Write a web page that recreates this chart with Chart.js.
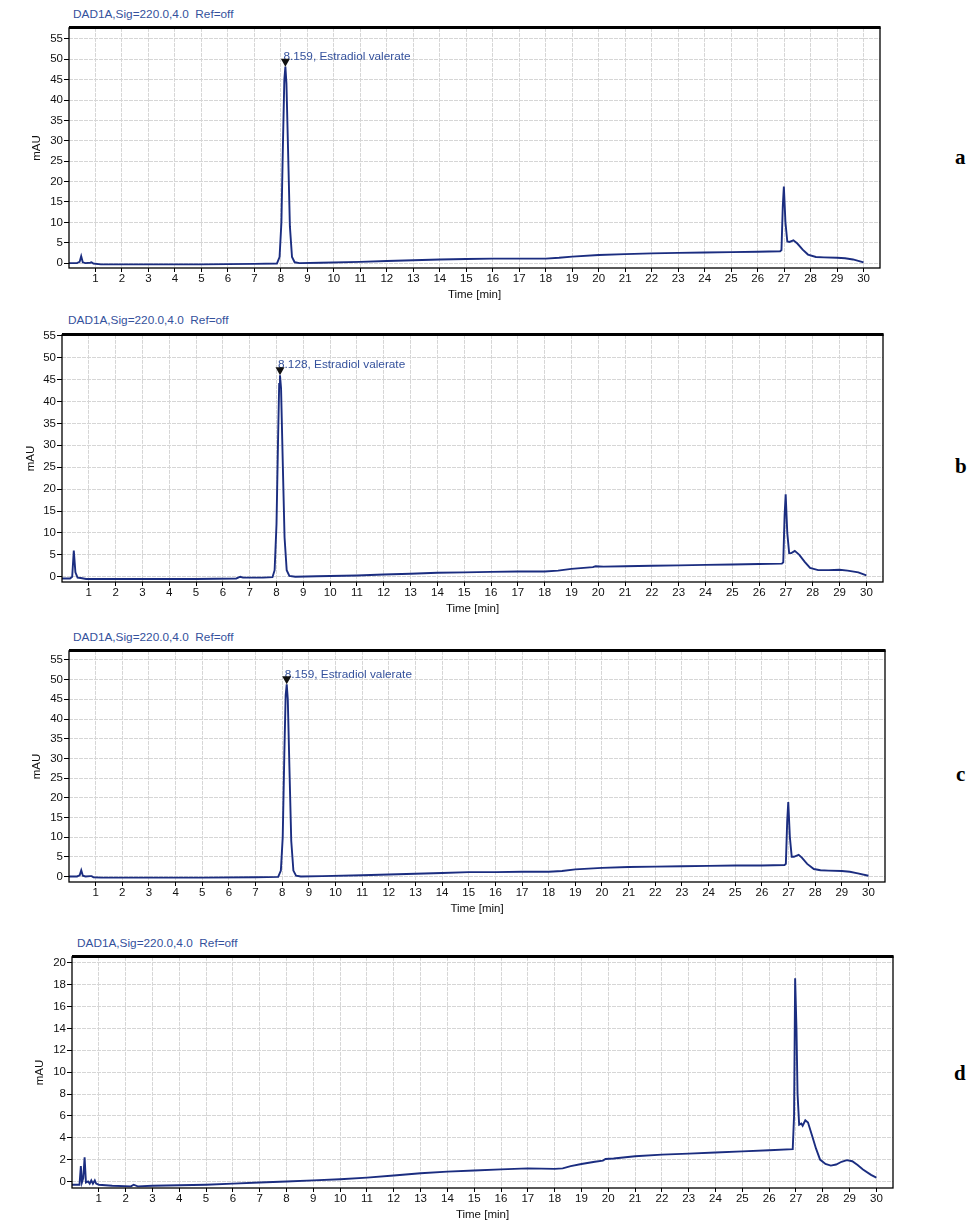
<!DOCTYPE html>
<html>
<head>
<meta charset="utf-8">
<script src="https://cdn.jsdelivr.net/npm/chart.js@4.4.1/dist/chart.umd.min.js"></script>
<style>
  body { margin: 0; background: #fff; width: 978px; height: 1227px; position: relative; overflow: hidden; }
  .panel { position: absolute; left: 0; }
  .head { position: absolute; font: 11.8px "Liberation Sans", Arial, sans-serif; color: #34519c; white-space: pre; }
  .tag { position: absolute; font: bold 21px "Liberation Serif", "Times New Roman", serif; color: #000; }
</style>
</head>
<body>
<div class="head" style="left:73px;top:7px">DAD1A,Sig=220.0,4.0  Ref=off</div>
<div class="head" style="left:68px;top:313px">DAD1A,Sig=220.0,4.0  Ref=off</div>
<div class="head" style="left:73px;top:630px">DAD1A,Sig=220.0,4.0  Ref=off</div>
<div class="head" style="left:77px;top:936px">DAD1A,Sig=220.0,4.0  Ref=off</div>
<div class="tag" style="left:955px;top:145px">a</div>
<div class="tag" style="left:955px;top:454px">b</div>
<div class="tag" style="left:956px;top:762px">c</div>
<div class="tag" style="left:954px;top:1061px">d</div>

<div class="panel" id="pa"><canvas id="chartA"></canvas></div>
<div class="panel" id="pb"><canvas id="chartB"></canvas></div>
<div class="panel" id="pc"><canvas id="chartC"></canvas></div>
<div class="panel" id="pd"><canvas id="chartD"></canvas></div>

<script>
// time [min], mAU
const traceA = [
  [0, 0], [0.3, 0], [0.4, 0.3], [0.46, 1.7], [0.52, 0.2], [0.62, 0], [0.8, 0.1], [0.85, 0.2], [0.92, -0.1],
  [1.2, -0.3], [3, -0.3], [5, -0.3], [7, -0.2], [7.85, -0.1], [7.95, 1.5], [8.02, 10], [8.08, 30],
  [8.13, 45], [8.17, 48.2], [8.21, 44], [8.27, 28], [8.34, 9], [8.42, 1.5], [8.52, 0.2], [8.7, 0],
  [9.5, 0.1], [11, 0.3], [12, 0.5], [13, 0.7], [14, 0.9], [15, 1.0], [16, 1.1], [17, 1.1], [18, 1.1],
  [18.5, 1.3], [19, 1.6], [20, 2.0], [21, 2.2], [22, 2.4], [23, 2.5], [24, 2.6], [25, 2.7], [26, 2.8],
  [26.85, 2.9], [26.9, 3.2], [26.95, 14], [26.99, 18.8], [27.05, 10], [27.12, 5.3], [27.2, 5.2],
  [27.35, 5.6], [27.5, 4.8], [27.7, 3.3], [27.9, 2.1], [28.2, 1.5], [28.5, 1.4], [29, 1.3], [29.3, 1.2],
  [29.6, 0.9], [30, 0.2]
];
const traceB = [
  [0, -0.4], [0.3, -0.4], [0.38, 0], [0.44, 6.0], [0.5, 1], [0.58, -0.2], [0.7, -0.3], [0.9, -0.5],
  [1.5, -0.5], [3, -0.5], [5, -0.5], [6.5, -0.4], [6.65, 0], [6.75, -0.2], [6.9, -0.2], [7.5, -0.2],
  [7.85, -0.1], [7.93, 1.5], [8.0, 12], [8.06, 32], [8.1, 44], [8.13, 46], [8.17, 43], [8.23, 27],
  [8.3, 9], [8.38, 1.5], [8.48, 0.2], [8.7, 0], [9.5, 0.1], [11, 0.3], [12, 0.5], [13, 0.7], [14, 0.9],
  [15, 1.0], [16, 1.1], [17, 1.2], [18, 1.2], [18.5, 1.4], [19, 1.8], [19.8, 2.2], [19.9, 2.4],
  [20.2, 2.3], [21, 2.4], [22, 2.5], [23, 2.6], [24, 2.7], [25, 2.8], [26, 2.9], [26.85, 3.0],
  [26.9, 3.3], [26.95, 14], [26.99, 18.8], [27.05, 10], [27.12, 5.4], [27.2, 5.4], [27.33, 5.9],
  [27.5, 5.0], [27.7, 3.4], [27.9, 2.0], [28.2, 1.5], [28.6, 1.5], [29, 1.6], [29.3, 1.4], [29.7, 1.0],
  [30, 0.3]
];
const traceC = [
  [0, 0], [0.3, 0], [0.4, 0.3], [0.46, 1.6], [0.52, 0.2], [0.62, 0], [0.8, 0.1], [0.85, 0.1], [0.92, -0.2],
  [1.2, -0.3], [3, -0.3], [5, -0.3], [7, -0.2], [7.85, -0.1], [7.95, 1.5], [8.02, 10], [8.08, 31],
  [8.13, 46], [8.17, 48.8], [8.21, 45], [8.27, 28], [8.34, 9], [8.42, 1.5], [8.52, 0.2], [8.7, 0],
  [9.5, 0.1], [11, 0.3], [12, 0.5], [13, 0.7], [14, 0.9], [15, 1.1], [16, 1.1], [17, 1.2], [18, 1.2],
  [18.5, 1.4], [19, 1.8], [20, 2.2], [21, 2.4], [22, 2.5], [23, 2.6], [24, 2.7], [25, 2.8], [26, 2.8],
  [26.85, 2.9], [26.9, 3.2], [26.95, 14], [26.99, 18.9], [27.05, 10], [27.12, 5.0], [27.2, 5.0],
  [27.38, 5.5], [27.5, 4.8], [27.7, 3.2], [27.95, 1.9], [28.2, 1.6], [28.5, 1.5], [29, 1.4], [29.3, 1.2],
  [29.6, 0.8], [30, 0.2]
];
const traceD = [
  [0, -0.3], [0.28, -0.3], [0.33, 1.4], [0.37, -0.1], [0.42, 0.3], [0.47, 2.2], [0.52, -0.1], [0.6, 0],
  [0.66, -0.2], [0.72, 0.1], [0.78, -0.2], [0.85, 0.1], [0.9, -0.2], [1.0, -0.3], [1.5, -0.4],
  [2.2, -0.45], [2.3, -0.3], [2.45, -0.45], [3, -0.4], [4, -0.35], [5, -0.3], [6, -0.2], [7, -0.1],
  [8, 0], [9, 0.1], [10, 0.2], [11, 0.35], [12, 0.55], [13, 0.75], [14, 0.9], [15, 1.0], [16, 1.1],
  [17, 1.2], [18, 1.15], [18.3, 1.2], [18.6, 1.4], [19, 1.6], [19.5, 1.8], [19.8, 1.9], [19.9, 2.05],
  [20.2, 2.1], [21, 2.3], [22, 2.45], [23, 2.55], [24, 2.65], [25, 2.75], [26, 2.85], [26.88, 2.95],
  [26.93, 6], [26.97, 18.6], [27.02, 14], [27.06, 8], [27.12, 5.2], [27.2, 5.3], [27.25, 5.1],
  [27.35, 5.6], [27.45, 5.4], [27.6, 4.2], [27.75, 3.0], [27.9, 2.0], [28.1, 1.6], [28.3, 1.45],
  [28.5, 1.55], [28.7, 1.8], [28.9, 1.95], [29.1, 1.85], [29.3, 1.5], [29.5, 1.1], [29.8, 0.6], [30, 0.35]
];

const timeTicks = [1, 2, 3, 4, 5, 6, 7, 8, 9, 10, 11, 12, 13, 14, 15, 16, 17, 18, 19, 20,
                   21, 22, 23, 24, 25, 26, 27, 28, 29, 30];
const mauTicksWide = [0, 5, 10, 15, 20, 25, 30, 35, 40, 45, 50, 55];
const mauTicksNarrow = [0, 2, 4, 6, 8, 10, 12, 14, 16, 18, 20];

// peak annotations: [time, apex mAU, label]
const peakA = [8.17, 48.2, '8.159, Estradiol valerate'];
const peakB = [8.13, 46.0, '8.128, Estradiol valerate'];
const peakC = [8.17, 48.8, '8.159, Estradiol valerate'];

const FONT = '"Liberation Sans", Arial, sans-serif';
const LINE = '#1b2d80';

// frame + peak marker
const framePlugin = {
  id: 'frame',
  afterDraw(chart) {
    const { ctx, chartArea: a } = chart;
    const peak = chart.options.plugins.frame.peak;
    if (peak) {
      const x = chart.scales.x.getPixelForValue(peak[0]);
      const y = chart.scales.y.getPixelForValue(peak[1]);
      ctx.save();
      ctx.fillStyle = '#34519c';
      ctx.font = '11.8px ' + FONT;
      ctx.textBaseline = 'middle';
      ctx.fillText(peak[2], x - 2, y - 10);
      ctx.fillStyle = '#111';
      ctx.beginPath();
      ctx.moveTo(x - 4.5, y - 8);
      ctx.lineTo(x + 4.5, y - 8);
      ctx.lineTo(x, y);
      ctx.closePath();
      ctx.fill();
      ctx.restore();
    }
    ctx.save();
    ctx.strokeStyle = '#000';
    ctx.lineWidth = 1.3;
    ctx.strokeRect(a.left, a.top, a.right - a.left, a.bottom - a.top);
    ctx.lineWidth = 3;
    ctx.beginPath();
    ctx.moveTo(a.left, a.top - 0.5);
    ctx.lineTo(a.right + 0.6, a.top - 0.5);
    ctx.stroke();
    ctx.restore();
  }
};

function makePanel(boxId, canvasId, box, trace, yMin, yMax, yTicks, titlePad, peak) {
  const wrap = document.getElementById(boxId);
  const padTop = 6;
  const xAxisH = 40;
  wrap.style.top = (box.top - padTop) + 'px';
  wrap.style.width = (box.right + 4) + 'px';
  wrap.style.height = (box.bottom - box.top + padTop + xAxisH) + 'px';

  new Chart(document.getElementById(canvasId), {
    type: 'line',
    data: {
      datasets: [{
        data: trace.map(p => ({ x: p[0], y: p[1] })),
        borderColor: LINE,
        borderWidth: 1.9,
        pointRadius: 0,
        tension: 0,
        fill: false
      }]
    },
    options: {
      responsive: true,
      maintainAspectRatio: false,
      animation: false,
      layout: { padding: { top: padTop, right: 4, left: 0, bottom: 0 } },
      plugins: { legend: { display: false }, tooltip: { enabled: false }, frame: { peak: peak } },
      scales: {
        x: {
          type: 'linear',
          min: 0,
          max: 30.62,
          afterBuildTicks: s => { s.ticks = timeTicks.map(v => ({ value: v })); },
          afterFit: s => { s.height = xAxisH; },
          grid: { color: '#d6d6d6', lineWidth: 1, tickColor: '#000', tickLength: 4 },
          border: { display: false, dash: [4, 1] },
          ticks: { color: '#111', font: { family: FONT, size: 11.5 }, padding: 0, maxRotation: 0, autoSkip: false },
          title: { display: true, text: 'Time [min]', color: '#111', font: { family: FONT, size: 11.5 }, padding: { top: 0, bottom: 6 } }
        },
        y: {
          type: 'linear',
          min: yMin,
          max: yMax,
          afterBuildTicks: s => { s.ticks = yTicks.map(v => ({ value: v })); },
          afterFit: s => { s.width = box.left; },
          grid: { color: '#d6d6d6', lineWidth: 1, tickColor: '#000', tickLength: 5 },
          border: { display: false, dash: [4, 1] },
          ticks: { color: '#111', font: { family: FONT, size: 11.5 }, padding: 1, autoSkip: false },
          title: { display: true, text: 'mAU', color: '#111', font: { family: FONT, size: 11.5 }, padding: { top: titlePad, bottom: 0 } }
        }
      }
    },
    plugins: [framePlugin]
  });
}

makePanel('pa', 'chartA', { left: 69, top: 26, right: 880, bottom: 268 }, traceA, -1.2, 57.7, mauTicksWide, 30, peakA);
makePanel('pb', 'chartB', { left: 62, top: 333, right: 883, bottom: 582 }, traceB, -1.2, 55.2, mauTicksWide, 24, peakB);
makePanel('pc', 'chartC', { left: 69, top: 649, right: 885, bottom: 882 }, traceC, -1.4, 57.3, mauTicksWide, 30, peakC);
makePanel('pd', 'chartD', { left: 72, top: 955, right: 893, bottom: 1188 }, traceD, -0.6, 20.55, mauTicksNarrow, 33, null);
</script>
</body>
</html>
